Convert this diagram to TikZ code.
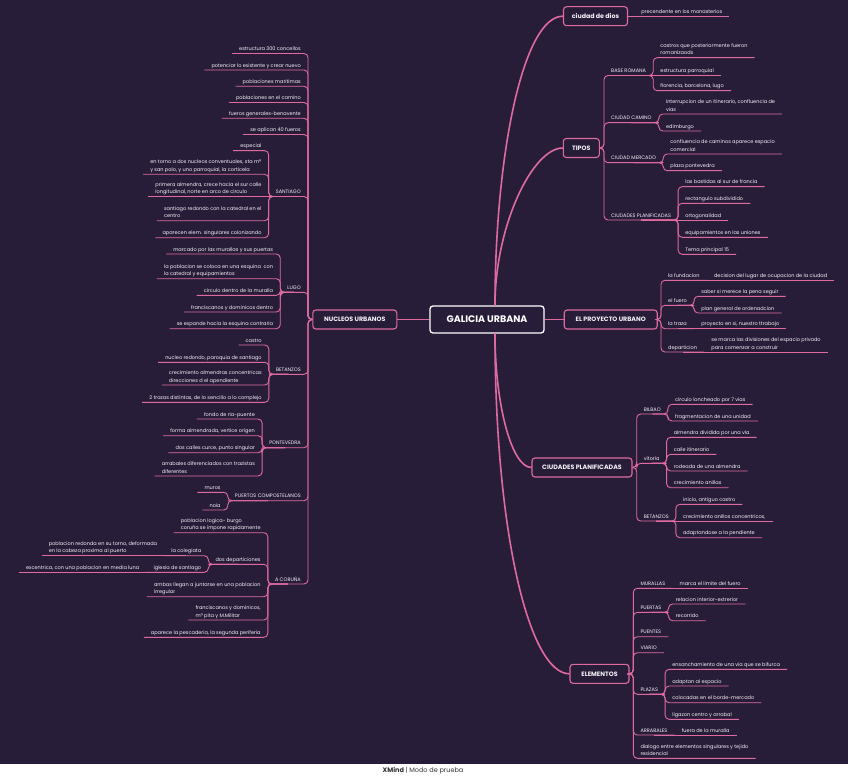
\documentclass[tikz,border=0pt]{standalone}
\usepackage{fontspec}
\setmainfont{Poppins}
\usetikzlibrary{positioning}
\definecolor{bg}{RGB}{40,29,57}
\definecolor{lk}{RGB}{222,106,160}
\definecolor{txt}{RGB}{244,242,247}
\newcommand{\tpsmall}{\fontsize{5}{7.5}\selectfont}
\newcommand{\tpbold}{\fontsize{6.3}{7}\selectfont\bfseries}

\begin{document}
\begin{tikzpicture}[x=1pt, y=-1pt,
    rtopic/.style={anchor=south west, font=\tpsmall, text=txt, align=left, inner xsep=7pt, inner ysep=2pt, text depth=0.6pt},
    ltopic/.style={rtopic, anchor=south east},
    mainbox/.style={draw=lk, line width=1.1pt, rounded corners=3pt, fill=bg, text=txt, font=\tpbold, inner xsep=8pt, minimum height=19pt},
    link/.style={draw=lk, line width=0.9pt, rounded corners=4pt},
    branch/.style={draw=lk, line width=1.6pt}]

    % background
    \useasboundingbox (0,0) rectangle (848,778);
    \fill[bg] (0,0) rectangle (848,764);
    \fill[white] (0,764) rectangle (848,778);
    \node[font=\fontsize{6.5}{7}\selectfont, text=black!80] (wm) at (423,771) {\textbf{XMind} | Modo de prueba};

    % central topic and main branches
    \node[draw=white, line width=1.3pt, rounded corners=3pt, fill=bg, text=white, font=\fontsize{9.5}{11}\selectfont\bfseries, minimum width=114pt, minimum height=27pt] (galicia) at (487,319.5) {GALICIA URBANA};
    \node[mainbox, minimum width=84pt, left=32pt of galicia] (nucleos) {NUCLEOS URBANOS};
    \node[mainbox, minimum width=93pt, right=19pt of galicia] (proyecto) {EL PROYECTO URBANO};
    \node[mainbox, minimum width=64pt] (dios) at (595.5,16.2) {ciudad de dios};
    \node[mainbox, minimum width=36pt] (tipos) at (581.3,148) {TIPOS};
    \node[mainbox, minimum width=100pt] (planif) at (582,467.5) {CIUDADES PLANIFICADAS};
    \node[mainbox, minimum width=59pt] (elementos) at (599.5,673.8) {ELEMENTOS};

    \draw[branch] (galicia.west) -- (nucleos.east);
    \draw[branch] (galicia.east) -- (proyecto.west);
    \draw[branch] ([xshift=8pt]galicia.north) .. controls +(0,-150) and +(-40,0) .. (dios.west);
    \draw[branch] ([xshift=8pt]galicia.north) .. controls +(0,-80) and +(-30,0) .. (tipos.west);
    \draw[branch] ([xshift=8pt]galicia.south) .. controls +(0,70) and +(-20,0) .. (planif.west);
    \draw[branch] ([xshift=8pt]galicia.south) .. controls +(0,200) and +(-40,0) .. (elementos.west);

    % spine points
    \coordinate (nu-sp) at (308,319.5);
    \coordinate (ti-sp) at (604,148);
    \coordinate (pr-sp) at (661,319.5);
    \coordinate (pl-sp) at (636.7,467.5);
    \coordinate (el-sp) at (633.3,673.8);

    % nucleos urbanos
    \node[ltopic] (estruc) at (nu-sp |- 0,53.5) {estructura 300 concellos};
    \node[ltopic] (potenc) at (nu-sp |- 0,70) {potenciar lo existente y crear nuevo};
    \node[ltopic] (maritim) at (nu-sp |- 0,86.3) {poblaciones maritimas};
    \node[ltopic] (encamino) at (nu-sp |- 0,102.5) {poblaciones en el camino};
    \node[ltopic] (fueros) at (nu-sp |- 0,118.3) {fueros generales-benavente};
    \node[ltopic] (aplican) at (nu-sp |- 0,134.5) {se aplican 40 fueros};
    \node[ltopic] (santiago) at (nu-sp |- 0,196.5) {SANTIAGO};
    \node[ltopic] (lugo) at (nu-sp |- 0,292.3) {LUGO};
    \node[ltopic] (betanzos) at (nu-sp |- 0,374.3) {BETANZOS};
    \node[ltopic] (pontev) at (nu-sp |- 0,447.7) {PONTEVEDRA};
    \node[ltopic] (puertos) at (nu-sp |- 0,500.7) {PUERTOS COMPOSTELANOS};
    \node[ltopic] (coruna) at (nu-sp |- 0,584) {A CORUÑA};
    \draw[link] (nucleos.west) -- (nu-sp) |- (estruc.south west);
    \draw[link] (nucleos.west) -- (nu-sp) |- (potenc.south west);
    \draw[link] (nucleos.west) -- (nu-sp) |- (maritim.south west);
    \draw[link] (nucleos.west) -- (nu-sp) |- (encamino.south west);
    \draw[link] (nucleos.west) -- (nu-sp) |- (fueros.south west);
    \draw[link] (nucleos.west) -- (nu-sp) |- (aplican.south west);
    \draw[link] (nucleos.west) -- (nu-sp) |- (santiago.south west);
    \draw[link] (nucleos.west) -- (nu-sp) |- (lugo.south west);
    \draw[link] (nucleos.west) -- (nu-sp) |- (betanzos.south west);
    \draw[link] (nucleos.west) -- (nu-sp) |- (pontev.south west);
    \draw[link] (nucleos.west) -- (nu-sp) |- (puertos.south west);
    \draw[link] (nucleos.west) -- (nu-sp) |- (coruna.south west);

    % santiago
    \node[ltopic] (sa1) at (santiago.south west |- 0,150.7) {especial};
    \node[ltopic] (sa2) at (santiago.south west |- 0,174.3) {en torno a dos nucleos conventuales, sta mª\\y san paio, y uno parroquial, la corticela};
    \node[ltopic] (sa3) at (santiago.south west) {primera almendra, crece hacia el sur calle\\longitudinal, norte en arco de circulo};
    \node[ltopic] (sa4) at (santiago.south west |- 0,220.7) {santiago redondo con la catedral en el\\centro};
    \node[ltopic] (sa5) at (santiago.south west |- 0,237.7) {aparecen elem. singulares colonizando};
    \draw[link] (santiago.south) -- (santiago.south west) |- (sa1.south west);
    \draw[link] (santiago.south) -- (santiago.south west) |- (sa2.south west);
    \draw[link] (santiago.south) -- (sa3.south west);
    \draw[link] (santiago.south) -- (santiago.south west) |- (sa4.south west);
    \draw[link] (santiago.south) -- (santiago.south west) |- (sa5.south west);

    % lugo
    \node[ltopic] (lu1) at (lugo.south west |- 0,254) {marcado por las murallas y sus puertas};
    \node[ltopic] (lu2) at (lugo.south west |- 0,278.7) {la poblacion se coloca en una esquina\ \ con\\la catedral y equipamientos};
    \node[ltopic] (lu3) at (lugo.south west |- 0,295.3) {circulo dentro de la muralla};
    \node[ltopic] (lu4) at (lugo.south west |- 0,312) {franciscanos y dominicos dentro};
    \node[ltopic] (lu5) at (lugo.south west |- 0,328.7) {se expande hacia la esquina contraria};
    \draw[link] (lugo.south) -- (lugo.south west) |- (lu1.south west);
    \draw[link] (lugo.south) -- (lugo.south west) |- (lu2.south west);
    \draw[link] (lugo.south) -- (lugo.south west) |- (lu3.south west);
    \draw[link] (lugo.south) -- (lugo.south west) |- (lu4.south west);
    \draw[link] (lugo.south) -- (lugo.south west) |- (lu5.south west);

    % betanzos
    \node[ltopic] (be1) at (betanzos.south west |- 0,345) {castro};
    \node[ltopic] (be2) at (betanzos.south west |- 0,362.3) {nucleo redondo, paroquia de santiago};
    \node[ltopic] (be3) at (betanzos.south west |- 0,385) {crecimiento almendras concentricas\\direcciones d el apendiente};
    \node[ltopic] (be4) at (betanzos.south west |- 0,402.3) {2 trazas distintas, de lo sencillo a lo complejo};
    \draw[link] (betanzos.south) -- (betanzos.south west) |- (be1.south west);
    \draw[link] (betanzos.south) -- (betanzos.south west) |- (be2.south west);
    \draw[link] (betanzos.south) -- (betanzos.south west) |- (be3.south west);
    \draw[link] (betanzos.south) -- (betanzos.south west) |- (be4.south west);

    % pontevedra
    \node[ltopic] (po1) at (pontev.south west |- 0,419) {fondo de ria-puente};
    \node[ltopic] (po2) at (pontev.south west |- 0,435.7) {forma almendrada, vertice origen};
    \node[ltopic] (po3) at (pontev.south west |- 0,452.7) {dos calles curce, punto singular};
    \node[ltopic] (po4) at (pontev.south west |- 0,476) {arrabales diferenciados con trazistas\\diferentes};
    \draw[link] (pontev.south) -- (pontev.south west) |- (po1.south west);
    \draw[link] (pontev.south) -- (pontev.south west) |- (po2.south west);
    \draw[link] (pontev.south) -- (pontev.south west) |- (po3.south west);
    \draw[link] (pontev.south) -- (pontev.south west) |- (po4.south west);

    % puertos compostelanos
    \node[ltopic] (pu1) at (puertos.south west |- 0,492.3) {muros};
    \node[ltopic] (pu2) at (puertos.south west |- 0,510) {noia};
    \draw[link] (puertos.south) -- (puertos.south west) |- (pu1.south west);
    \draw[link] (puertos.south) -- (puertos.south west) |- (pu2.south west);

    % a coruna
    \node[ltopic] (co1) at (coruna.south west |- 0,532.7) {poblacion logica- burgo\\coruña se impone rapidamente};
    \node[ltopic] (co2) at (coruna.south west |- 0,564.3) {dos departiciones};
    \node[ltopic] (co21) at (co2.south west |- 0,555.7) {la colegiata};
    \node[ltopic] (co211) at (co21.south west) {poblacion redonda en su torno, deformada\\en la cabeza proxima al puerto};
    \node[ltopic] (co22) at (co2.south west |- 0,572.3) {iglesia de santiago};
    \node[ltopic] (co221) at (co22.south west) {excentrica, con una poblacion en media luna};
    \node[ltopic] (co3) at (coruna.south west |- 0,596.7) {ambas llegan a juntarse en una poblacion\\irregular};
    \node[ltopic] (co4) at (coruna.south west |- 0,620) {franciscanos y dominicos,\\mª pita y M.Militar};
    \node[ltopic] (co5) at (coruna.south west |- 0,637.3) {aparece la pescaderia, la segunda periferia};
    \draw[link] (coruna.south) -- (coruna.south west) |- (co1.south west);
    \draw[link] (coruna.south) -- (coruna.south west) |- (co2.south west);
    \draw[link] (co2.south) -- (co2.south west) |- (co21.south west);
    \draw[link] (co2.south) -- (co2.south west) |- (co22.south west);
    \draw[link] (co21.south) -- (co211.south west);
    \draw[link] (co22.south) -- (co221.south west);
    \draw[link] (coruna.south) -- (coruna.south west) |- (co3.south west);
    \draw[link] (coruna.south) -- (coruna.south west) |- (co4.south west);
    \draw[link] (coruna.south) -- (coruna.south west) |- (co5.south west);

    % ciudad de dios
    \node[rtopic] (di1) at ([xshift=6pt]dios.east) {precendente en los monasterios};
    \draw[link] (dios.east) -- (di1.south east);

    % tipos
    \node[rtopic] (ti1) at (ti-sp |- 0,75.5) {BASE ROMANA};
    \node[rtopic] (ti2) at (ti-sp |- 0,122.7) {CIUDAD CAMINO};
    \node[rtopic] (ti3) at (ti-sp |- 0,162.7) {CIUDAD MERCADO};
    \node[rtopic] (ti4) at (ti-sp |- 0,220) {CIUDADES PLANIFICADAS};
    \draw[link] (tipos.east) -- (ti-sp) |- (ti1.south east);
    \draw[link] (tipos.east) -- (ti-sp) |- (ti2.south east);
    \draw[link] (tipos.east) -- (ti-sp) |- (ti3.south east);
    \draw[link] (tipos.east) -- (ti-sp) |- (ti4.south east);

    \node[rtopic] (br1) at (ti1.south east |- 0,57.7) {castros que posteriormente fueron\\romanizaods};
    \node[rtopic] (br2) at (ti1.south east) {estructura parroquial};
    \node[rtopic] (br3) at (ti1.south east |- 0,90.7) {florencia, barcelona, lugo};
    \draw[link] (ti1.south) -- (ti1.south east) |- (br1.south east);
    \draw[link] (ti1.south) -- (br2.south east);
    \draw[link] (ti1.south) -- (ti1.south east) |- (br3.south east);

    \node[rtopic] (cc1) at (ti2.south east |- 0,114) {interrupcion de un itinerario, confluencia de\\vias};
    \node[rtopic] (cc2) at (ti2.south east |- 0,131) {edimburgo};
    \draw[link] (ti2.south) -- (ti2.south east) |- (cc1.south east);
    \draw[link] (ti2.south) -- (ti2.south east) |- (cc2.south east);

    \node[rtopic] (cm1) at (ti3.south east |- 0,154) {confluencia de caminos aparece espacio\\comercial};
    \node[rtopic] (cm2) at (ti3.south east |- 0,170.7) {plaza pontevedra};
    \draw[link] (ti3.south) -- (ti3.south east) |- (cm1.south east);
    \draw[link] (ti3.south) -- (ti3.south east) |- (cm2.south east);

    \node[rtopic] (cp1) at (ti4.south east |- 0,186.7) {las bastidas al sur de francia};
    \node[rtopic] (cp2) at (ti4.south east |- 0,203.3) {rectangulo subdividido};
    \node[rtopic] (cp3) at (ti4.south east) {ortogonalidad};
    \node[rtopic] (cp4) at (ti4.south east |- 0,237.3) {equipamientos en las uniones};
    \node[rtopic] (cp5) at (ti4.south east |- 0,254.3) {Tema principal 15};
    \draw[link] (ti4.south) -- (ti4.south east) |- (cp1.south east);
    \draw[link] (ti4.south) -- (ti4.south east) |- (cp2.south east);
    \draw[link] (ti4.south) -- (cp3.south east);
    \draw[link] (ti4.south) -- (ti4.south east) |- (cp4.south east);
    \draw[link] (ti4.south) -- (ti4.south east) |- (cp5.south east);

    % el proyecto urbano
    \node[rtopic] (pr1) at (pr-sp |- 0,280.3) {la fundacion};
    \node[rtopic] (pr11) at (pr1.south east) {decision del lugar de ocupacion de la ciudad};
    \node[rtopic] (pr2) at (pr-sp |- 0,305.3) {el fuero};
    \node[rtopic] (pr21) at (pr2.south east |- 0,296.3) {saber si merece la pena seguir};
    \node[rtopic] (pr22) at (pr2.south east |- 0,313) {plan general de ordenadcion};
    \node[rtopic] (pr3) at (pr-sp |- 0,328.7) {la traza};
    \node[rtopic] (pr31) at (pr3.south east) {proyecto en si, nuestro ttrabajo};
    \node[rtopic] (pr4) at (pr-sp |- 0,352) {departicion};
    \node[rtopic] (pr41) at (pr4.south east) {se marca las divisiones del espacio privado\\para comenzar a construir};
    \draw[link] (proyecto.east) -- (pr-sp) |- (pr1.south east);
    \draw[link] (proyecto.east) -- (pr-sp) |- (pr2.south east);
    \draw[link] (proyecto.east) -- (pr-sp) |- (pr3.south east);
    \draw[link] (proyecto.east) -- (pr-sp) |- (pr4.south east);
    \draw[link] (pr1.south) -- (pr11.south east);
    \draw[link] (pr2.south) -- (pr2.south east) |- (pr21.south east);
    \draw[link] (pr2.south) -- (pr2.south east) |- (pr22.south east);
    \draw[link] (pr3.south) -- (pr31.south east);
    \draw[link] (pr4.south) -- (pr41.south east);

    % ciudades planificadas
    \node[rtopic] (pl1) at (pl-sp |- 0,414) {BILBAO};
    \node[rtopic] (pl2) at (pl-sp |- 0,463.3) {vitoria};
    \node[rtopic] (pl3) at (pl-sp |- 0,521) {BETANZOS};
    \draw[link] (planif.east) -- (pl-sp) |- (pl1.south east);
    \draw[link] (planif.east) -- (pl-sp) |- (pl2.south east);
    \draw[link] (planif.east) -- (pl-sp) |- (pl3.south east);

    \node[rtopic] (bi1) at (pl1.south east |- 0,404.3) {circulo loncheado por 7 vias};
    \node[rtopic] (bi2) at (pl1.south east |- 0,421) {fragmentacion de una unidad};
    \draw[link] (pl1.south) -- (pl1.south east) |- (bi1.south east);
    \draw[link] (pl1.south) -- (pl1.south east) |- (bi2.south east);

    \node[rtopic] (vi1) at (pl2.south east |- 0,437.3) {almendra dividida por una via};
    \node[rtopic] (vi2) at (pl2.south east |- 0,454.3) {calle itinerario};
    \node[rtopic] (vi3) at (pl2.south east |- 0,471) {rodeada de una almendra};
    \node[rtopic] (vi4) at (pl2.south east |- 0,487.7) {crecimiento anillas};
    \draw[link] (pl2.south) -- (pl2.south east) |- (vi1.south east);
    \draw[link] (pl2.south) -- (pl2.south east) |- (vi2.south east);
    \draw[link] (pl2.south) -- (pl2.south east) |- (vi3.south east);
    \draw[link] (pl2.south) -- (pl2.south east) |- (vi4.south east);

    \node[rtopic] (bt1) at (pl3.south east |- 0,504.3) {inicio, antiguo castro};
    \node[rtopic] (bt2) at (pl3.south east) {crecimiento anillos concentricos,};
    \node[rtopic] (bt3) at (pl3.south east |- 0,537.7) {adaptandose a la pendiente};
    \draw[link] (pl3.south) -- (pl3.south east) |- (bt1.south east);
    \draw[link] (pl3.south) -- (bt2.south east);
    \draw[link] (pl3.south) -- (pl3.south east) |- (bt3.south east);

    % elementos
    \node[rtopic] (el1) at (el-sp |- 0,588.3) {MURALLAS};
    \node[rtopic] (el11) at (el1.south east) {marca el limite del fuero};
    \node[rtopic] (el2) at (el-sp |- 0,612.3) {PUERTAS};
    \node[rtopic] (el21) at (el2.south east |- 0,604) {relacion interior-extrerior};
    \node[rtopic] (el22) at (el2.south east |- 0,620.7) {recorrido};
    \node[rtopic] (el3) at (el-sp |- 0,636.7) {PUENTES};
    \node[rtopic] (el4) at (el-sp |- 0,652.7) {VIARIO};
    \node[rtopic] (el5) at (el-sp |- 0,694.3) {PLAZAS};
    \node[rtopic] (el51) at (el5.south east |- 0,669.3) {ensanchamiento de una via que se bifurca};
    \node[rtopic] (el52) at (el5.south east |- 0,686) {adaptan al espacio};
    \node[rtopic] (el53) at (el5.south east |- 0,702.7) {colocadas en el borde-mercado};
    \node[rtopic] (el54) at (el5.south east |- 0,719.3) {ligazon centro y arrabal};
    \node[rtopic] (el6) at (el-sp |- 0,735) {ARRABALES};
    \node[rtopic] (el61) at (el6.south east) {fuera de la muralla};
    \node[rtopic] (el7) at (el-sp |- 0,758.3) {dialogo entre elementos singulares y tejido\\residencial};
    \draw[link] (elementos.east) -- (el-sp) |- (el1.south east);
    \draw[link] (elementos.east) -- (el-sp) |- (el2.south east);
    \draw[link] (elementos.east) -- (el-sp) |- (el3.south east);
    \draw[link] (elementos.east) -- (el-sp) |- (el4.south east);
    \draw[link] (elementos.east) -- (el-sp) |- (el5.south east);
    \draw[link] (elementos.east) -- (el-sp) |- (el6.south east);
    \draw[link] (elementos.east) -- (el-sp) |- (el7.south east);
    \draw[link] (el1.south) -- (el11.south east);
    \draw[link] (el2.south) -- (el2.south east) |- (el21.south east);
    \draw[link] (el2.south) -- (el2.south east) |- (el22.south east);
    \draw[link] (el5.south) -- (el5.south east) |- (el51.south east);
    \draw[link] (el5.south) -- (el5.south east) |- (el52.south east);
    \draw[link] (el5.south) -- (el5.south east) |- (el53.south east);
    \draw[link] (el5.south) -- (el5.south east) |- (el54.south east);
    \draw[link] (el6.south) -- (el61.south east);
\end{tikzpicture}
\end{document}
